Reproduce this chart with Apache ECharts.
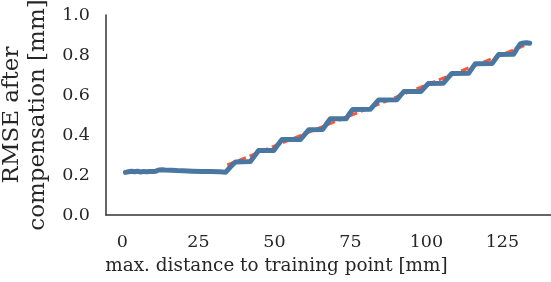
<!DOCTYPE html>
<html>
<head>
<meta charset="utf-8">
<script src="https://cdn.jsdelivr.net/npm/echarts@6/dist/echarts.min.js"></script>
<style>
  html, body { margin: 0; padding: 0; background: #fff; }
  #main { width: 551px; height: 282px; }
</style>
</head>
<body>
<div id="main"></div>
<script>
var distX = [1, 2, 3, 4, 5, 6, 7, 8, 9, 10, 11, 12, 13, 14, 16, 18, 20, 23, 26, 29, 32, 34,
    35.5, 37.2, 42.1,
    43.5, 44.8, 49.8,
    51.2, 52.5, 58.6,
    60, 61.3, 65.9,
    67.2, 68.4, 73.6,
    74.6, 75.8, 81.6,
    83, 84.3, 90.3,
    91.4, 92.6, 98.2,
    99.4, 100.6, 105.6,
    107, 108.4, 113.9,
    115, 116.1, 121.6,
    122.7, 123.8, 128.7,
    129.8, 130.9, 132, 133, 134];
var rmse = [0.213, 0.216, 0.219, 0.216, 0.219, 0.215, 0.218, 0.216, 0.218, 0.217, 0.219, 0.225, 0.226, 0.225, 0.224, 0.222, 0.221, 0.219, 0.218, 0.217, 0.216, 0.214,
    0.24, 0.265, 0.268,
    0.296, 0.323, 0.323,
    0.352, 0.377, 0.378,
    0.403, 0.426, 0.428,
    0.456, 0.481, 0.481,
    0.505, 0.528, 0.529,
    0.553, 0.575, 0.576,
    0.597, 0.617, 0.618,
    0.637, 0.657, 0.659,
    0.684, 0.708, 0.709,
    0.733, 0.756, 0.757,
    0.780, 0.803, 0.804,
    0.832, 0.855, 0.86, 0.861, 0.859];
// linear fit (dashed)
var fitX = [34.5, 134];
var fitY = [0.25, 0.858];

var xTicks = [0, 25, 50, 75, 100, 125];

var font = 'DejaVu Serif';
var txt = '#262626';

function pairs(xs, ys) {
    var out = [];
    for (var i = 0; i < xs.length; i++) {
        out.push([xs[i], ys[i]]);
    }
    return out;
}

var myChart = echarts.init(document.getElementById('main'), null, {renderer: 'canvas'});
var option = {
    animation: false,
    grid: {
        left: 106,
        right: 0,
        top: 15,
        bottom: 67,
        containLabel: false,
        outerBoundsMode: 'none'
    },
    xAxis: {
        type: 'value',
        min: -5.4,
        max: 141,
        name: 'max. distance to training point [mm]',
        nameLocation: 'middle',
        nameGap: 42,
        // title sits left of the axis centre in the original
        nameTextStyle: {fontFamily: font, fontSize: 18.4, color: txt, padding: [0, 104, 0, 0]},
        axisLine: {show: true, onZero: false, lineStyle: {color: '#333', width: 1.5}},
        axisTick: {show: false},
        splitLine: {show: false},
        axisLabel: {
            customValues: xTicks,
            fontFamily: font,
            fontSize: 17.5,
            color: txt,
            margin: 18
        }
    },
    yAxis: {
        type: 'value',
        min: 0,
        max: 1.0,
        interval: 0.2,
        name: 'RMSE after\ncompensation [mm]',
        nameLocation: 'middle',
        nameRotate: 90,
        nameGap: 51,
        nameTextStyle: {fontFamily: font, fontSize: 23, color: txt, lineHeight: 26},
        axisLine: {show: true, onZero: false, lineStyle: {color: '#333', width: 1.5}},
        axisTick: {show: false},
        splitLine: {show: false},
        axisLabel: {
            fontFamily: font,
            fontSize: 17.5,
            color: txt,
            margin: 16,
            padding: [12, 0, 0, 0],
            formatter: function (v) { return v.toFixed(1); }
        }
    },
    series: [{
        name: 'fit',
        type: 'line',
        data: pairs(fitX, fitY),
        symbol: 'none',
        lineStyle: {color: '#ff5733', width: 3, type: [8, 4]},
        z: 2
    }, {
        name: 'rmse',
        type: 'line',
        data: pairs(distX, rmse),
        symbol: 'none',
        lineStyle: {color: '#4a77a2', width: 5, cap: 'round', join: 'round'},
        z: 3
    }]
};
myChart.setOption(option);
</script>
</body>
</html>
